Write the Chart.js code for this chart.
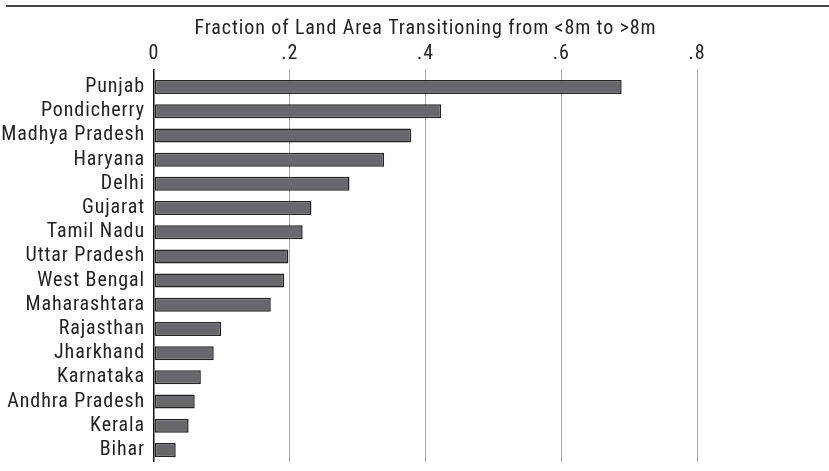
<!DOCTYPE html>
<html>
<head>
<meta charset="utf-8">
<script src="https://cdn.jsdelivr.net/npm/chart.js@4/dist/chart.umd.min.js"></script>
<style>
  html, body { margin: 0; padding: 0; background: #fff; }
  #wrap { position: relative; width: 829px; height: 471px; }
  #rule { position: absolute; top: 5px; left: 6px; right: 0; height: 2px; background: #444; }
  canvas { position: absolute; left: 0; top: 0; }
</style>
</head>
<body>
<div id="wrap">
  <canvas id="chart" width="829" height="471"></canvas>
  <div id="rule"></div>
</div>
<script>
// states, sorted as in the figure
const states = [
  "Punjab", "Pondicherry", "Madhya Pradesh", "Haryana", "Delhi", "Gujarat",
  "Tamil Nadu", "Uttar Pradesh", "West Bengal", "Maharashtara", "Rajasthan",
  "Jharkhand", "Karnataka", "Andhra Pradesh", "Kerala", "Bihar"
];
const fractions = [
  0.689, 0.423, 0.379, 0.339, 0.288, 0.232,
  0.219, 0.198, 0.192, 0.172, 0.099,
  0.088, 0.069, 0.060, 0.051, 0.032
];
const tickValues = [0, 0.2, 0.4, 0.6, 0.8];
const tickLabels = ["0", ".2", ".4", ".6", ".8"];

// "condensed" ends up in the canvas font string -> Roboto Condensed
Chart.defaults.font.family = "Roboto, sans-serif";
Chart.defaults.font.style = "normal";
Chart.defaults.font.weight = "condensed";
Chart.defaults.font.size = 20;
Chart.defaults.color = "#222";

// canvas resize wipes the ctx state, so put the tracking back before layout
const tracking = {
  id: "tracking",
  beforeUpdate(chart) { chart.ctx.letterSpacing = "0.9px"; },
  beforeDraw(chart) { chart.ctx.letterSpacing = "0.9px"; }
};

new Chart(document.getElementById("chart"), {
  type: "bar",
  data: {
    labels: states,
    datasets: [{
      data: fractions,
      backgroundColor: "#68686c",
      borderColor: "#222",
      borderWidth: 1.5,
      borderSkipped: false,
      barPercentage: 0.58,
      categoryPercentage: 1
    }]
  },
  plugins: [tracking],
  options: {
    indexAxis: "y",
    responsive: false,
    animation: false,
    devicePixelRatio: 1,
    layout: { padding: { top: 0, right: 132, bottom: 9, left: 0 } },
    plugins: { legend: { display: false }, tooltip: { enabled: false } },
    scales: {
      x: {
        position: "top",
        min: 0,
        max: 0.8,
        afterFit: s => { s.height = 75; },
        afterBuildTicks: s => { s.ticks = tickValues.map(v => ({ value: v })); },
        border: { display: false },
        grid: {
          color: c => (c.tick && c.tick.value === 0 ? "#111" : "#aaa"),
          lineWidth: c => (c.tick && c.tick.value === 0 ? 1.5 : 1),
          tickLength: 6
        },
        ticks: {
          padding: 3,
          callback: (v, i) => tickLabels[i]
        },
        title: {
          display: true,
          text: "Fraction of Land Area Transitioning from <8m to >8m",
          padding: { top: 17, bottom: 0 }
        }
      },
      y: {
        afterFit: s => { s.width = 154; s.paddingTop = 0; s.paddingBottom = 0; },
        border: { display: false },
        grid: { display: false, drawTicks: false },
        ticks: {
          autoSkip: false,
          padding: 9
        }
      }
    }
  }
});
</script>
</body>
</html>
